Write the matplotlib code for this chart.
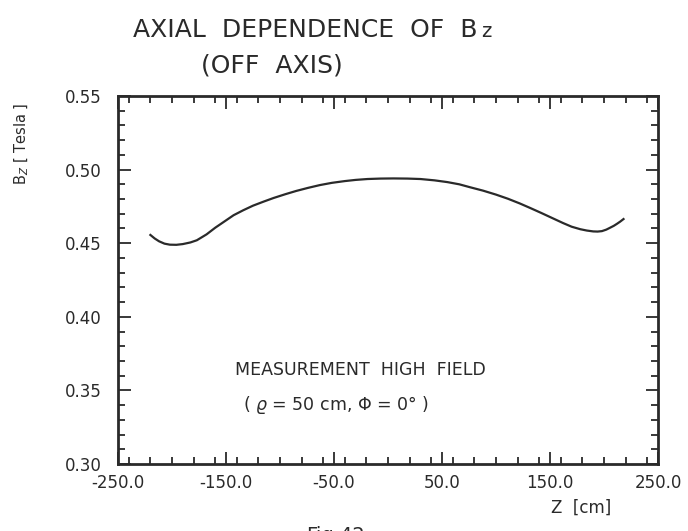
import matplotlib.pyplot as plt
from matplotlib.ticker import MultipleLocator, FormatStrFormatter
plt.close()

# data
z_cm = [-220, -216, -212, -207, -202, -196, -190, -183, -177, -168, -160, -151, -143, -134,
        -125, -115, -106, -95, -85, -74, -63, -52, -40, -30, -19, -7, 5, 18, 30, 43, 55, 66,
        76, 88, 100, 111, 122, 132, 142, 152, 162, 170, 178, 184, 190, 194, 198, 202, 205,
        209, 212, 215, 218]
bz = [0.4556, 0.4532, 0.4513, 0.4497, 0.4490, 0.4489, 0.4494, 0.4505, 0.4520, 0.4560, 0.4605,
      0.4650, 0.4690, 0.4724, 0.4755, 0.4783, 0.4807, 0.4833, 0.4855, 0.4876, 0.4895, 0.4910,
      0.4922, 0.4930, 0.4936, 0.4939, 0.4940, 0.4939, 0.4936, 0.4927, 0.4915, 0.4900, 0.4880,
      0.4857, 0.4830, 0.4802, 0.4770, 0.4738, 0.4705, 0.4671, 0.4637, 0.4612, 0.4595, 0.4586,
      0.4580, 0.4579, 0.4582, 0.4592, 0.4603, 0.4618, 0.4632, 0.4647, 0.4664]

xticks = [-250.0, -150.0, -50.0, 50.0, 150.0, 250.0]
yticks = [0.30, 0.35, 0.40, 0.45, 0.50, 0.55]

ink = '#2a2a2a'
plt.rcParams['font.family'] = ['DejaVu Sans']

fig = plt.figure(figsize=(6.88, 5.31), dpi=100)
ax = fig.add_axes([0.1715, 0.1262, 0.785, 0.693])

ax.plot(z_cm, bz, color=ink, lw=1.6)

ax.set_xlim(-250, 250)
ax.set_ylim(0.30, 0.55)
ax.set_xticks(xticks)
ax.set_yticks(yticks)
ax.xaxis.set_minor_locator(MultipleLocator(20))
ax.yaxis.set_minor_locator(MultipleLocator(0.01))
ax.xaxis.set_major_formatter(FormatStrFormatter('%.1f'))
ax.yaxis.set_major_formatter(FormatStrFormatter('%.2f'))
ax.tick_params(which='both', direction='in', top=True, right=True, color=ink,
               labelcolor=ink, labelsize=12, width=1.3)
ax.tick_params(which='major', length=9)
ax.tick_params(which='minor', length=5)
ax.tick_params(axis='y', pad=12)
ax.tick_params(axis='x', pad=7)
for s in ax.spines.values():
    s.set_linewidth(2)
    s.set_color(ink)

# titles and labels
t = fig.text(0.193, 0.943, 'AXIAL  DEPENDENCE  OF  B', fontsize=18, color=ink,
             ha='left', va='center')
fig.text(0.395, 0.877, '(OFF  AXIS)', fontsize=18, color=ink, ha='center', va='center')
ax.annotate('z', xy=(1, 0.05), xycoords=t, xytext=(3, 0), textcoords='offset points',
            fontsize=14, color=ink, ha='left', va='bottom', annotation_clip=False)

fig.text(0.032, 0.73, r'B$_Z$ [ Tesla ]', rotation=90, fontsize=10.5, color=ink,
         ha='center', va='center')
fig.text(0.845, 0.043, 'Z  [cm]', fontsize=12, color=ink, ha='center', va='center')
fig.text(0.487, -0.008, 'Fig.42', fontsize=14, color=ink, ha='center', va='center')

ax.text(-142, 0.364, 'MEASUREMENT  HIGH  FIELD', fontsize=12.5, color=ink, ha='left', va='center')
ax.text(-134, 0.340, r'( $\varrho$ = 50 cm, $\Phi$ = 0$\degree$ )', fontsize=12.5, color=ink,
        ha='left', va='center')

plt.savefig('out.png', dpi=100)
plt.close()
